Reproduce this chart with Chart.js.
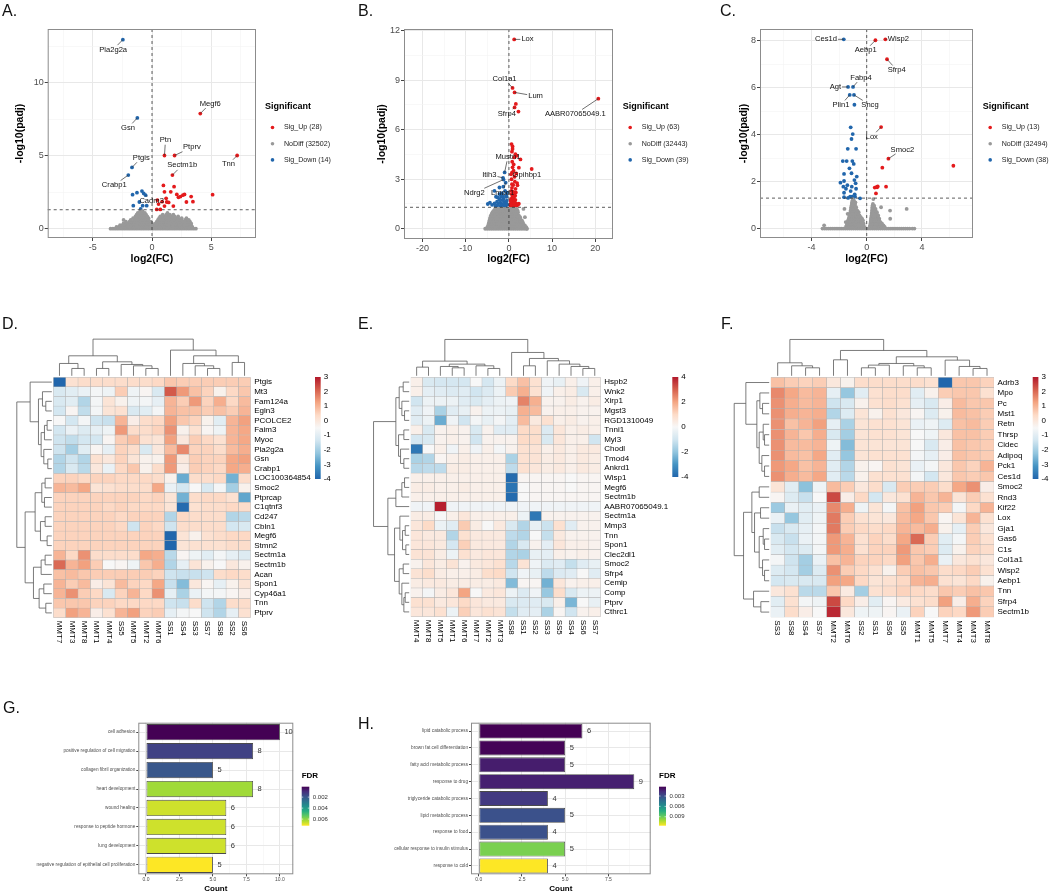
<!DOCTYPE html>
<html>
<head>
<meta charset="utf-8">
<title>DEG figure</title>
<script src="https://cdn.jsdelivr.net/npm/chart.js@4.4.1/dist/chart.umd.min.js"></script>
<style>
  body { margin: 0; background: #fff; font-family: "Liberation Sans", Arial, sans-serif; }
  #fig { position: relative; width: 1050px; height: 895px; overflow: hidden; }
  #fig canvas { position: absolute; }
  .tag { position: absolute; font-size: 16px; line-height: 16px; color: #111; }
</style>
</head>
<body>
<div id="fig">
  <canvas id="volA" width="350" height="270" style="left:0;top:0"></canvas>
  <canvas id="volB" width="350" height="270" style="left:350px;top:0"></canvas>
  <canvas id="volC" width="350" height="270" style="left:700px;top:0"></canvas>
  <canvas id="heatD" width="340" height="330" style="left:0;top:320px"></canvas>
  <canvas id="heatE" width="350" height="330" style="left:340px;top:320px"></canvas>
  <canvas id="heatF" width="360" height="330" style="left:690px;top:320px"></canvas>
  <canvas id="goG" width="340" height="205" style="left:0;top:690px"></canvas>
  <canvas id="goH" width="370" height="205" style="left:340px;top:690px"></canvas>
  <div class="tag" style="left:2px;top:3px">A.</div>
  <div class="tag" style="left:358px;top:3px">B.</div>
  <div class="tag" style="left:720px;top:3px">C.</div>
  <div class="tag" style="left:2px;top:316px">D.</div>
  <div class="tag" style="left:358px;top:316px">E.</div>
  <div class="tag" style="left:721px;top:316px">F.</div>
  <div class="tag" style="left:3px;top:700px">G.</div>
  <div class="tag" style="left:358px;top:716px">H.</div>
</div>
<script>
// ---------- volcano A (log2FC, -log10 padj) ----------
// non-significant genes, read as rows: [-log10 padj, [log2FC ...]]
const aNoDiffRows = [
  [0, [-3.5,-3.3,-3.1,-2.9,-2.7,-2.5,-2.3,-2.1,-1.9,-1.7,-1.5,-1.3,-1.1,-0.9,-0.7,-0.5,-0.3,-0.1,0.1,0.3,0.5,0.7,0.9,1.1,1.3,1.5,1.7,1.9,2.1,2.3,2.5,2.7,2.9,3.1,3.3,3.5,3.7]],
  [0.12, [-3.0,-2.8,-2.6,-2.4,-2.2,-2.0,-1.8,-1.6,-1.4,-1.2,-1.0,-0.8,-0.6,-0.4,-0.2,0.0,0.2,0.4,0.6,0.8,1.0,1.2,1.4,1.6,1.8,2.0,2.2,2.4,2.6,2.8,3.0,3.2,3.4]],
  [0.24, [-2.7,-2.5,-2.3,-2.1,-1.9,-1.7,-1.5,-1.3,-1.1,-0.9,-0.7,-0.5,-0.3,-0.1,0.1,0.3,0.5,0.7,0.9,1.1,1.3,1.5,1.7,1.9,2.1,2.3,2.5,2.7,2.9,3.1,3.3]],
  [0.36, [-2.4,-2.2,-2.0,-1.8,-1.6,-1.4,-1.2,-1.0,-0.8,-0.6,-0.4,-0.2,0.0,0.3,0.5,0.7,0.9,1.1,1.3,1.5,1.7,1.9,2.1,2.3,2.5,2.7,2.9,3.1,3.3]],
  [0.48, [-2.2,-1.9,-1.7,-1.5,-1.3,-1.1,-0.9,-0.7,-0.5,-0.3,-0.1,0.4,0.6,0.8,1.0,1.2,1.4,1.6,1.8,2.0,2.2,2.4,2.6,2.8,3.0,3.2]],
  [0.6, [-2.4,-1.8,-1.5,-1.3,-1.1,-0.9,-0.7,-0.5,-0.3,0.5,0.7,0.9,1.1,1.3,1.5,1.7,1.9,2.1,2.3,2.5,2.8,3.1]],
  [0.72, [-1.6,-1.3,-1.1,-0.9,-0.7,-0.5,-0.3,0.6,0.8,1.0,1.2,1.4,1.6,1.8,2.0,2.2,2.5,2.9]],
  [0.84, [-1.4,-1.2,-1.0,-0.8,-0.6,-0.4,0.7,0.9,1.1,1.3,1.5,1.7,1.9,2.2]],
  [0.96, [-1.3,-1.1,-0.9,-0.7,-0.5,0.9,1.2,1.5,1.8]],
  [1.08, [-1.2,-1.0,-0.8,-0.6,1.3]],
  [1.2, [-1.0,-0.8]]];
const aUp = [[4.07,7.9,'Megf6'],[1.05,5.02,'Ptn'],[1.9,5.02,'Ptprv'],[7.18,5.02,'Tnn'],[1.72,3.68,'Sectm1b'],
  [0.96,2.97],[1.86,2.88],[1.05,2.53],[1.58,2.53],[2.09,2.35],[2.6,2.3],[2.4,2.2],[2.23,2.15],[2.74,2.35],[3.3,2.2],[5.11,2.33],
  [1.19,2.08],[0.85,1.85],[1.24,1.83],[0.45,1.96],[2.9,1.83],[3.45,1.85],[1.05,1.55],[1.8,1.55],[0.4,1.32],[0.7,1.32],[0.55,1.69],[1.4,1.8]];
const aDown = [[-2.46,12.97,'Pla2g2a'],[-1.24,7.6,'Gsn'],[-1.69,4.2,'Ptgis'],[-2.0,3.68,'Crabp1'],[-0.54,2.3,'Cadm3'],
  [-1.64,2.33],[-1.27,2.47],[-0.85,2.58],[-0.7,2.42],[-1.58,1.58],[-1.07,1.83],[-0.79,1.58],[-0.45,1.58],[-0.96,1.35]];
const aCounts = [28, 32502, 14];

// ---------- volcano B ----------
const bNoDiffRows = [
  [0, [-5.5,-5,-4.5,-4,-3.5,-3,-2.5,-2,-1.5,-1,-0.5,0,0.5,1,1.5,2,2.5,3,3.5,4,4.2]],
  [0.1, [-5,-4.5,-4,-3.5,-3,-2.5,-2,-1.5,-1,-0.5,0,0.5,1,1.5,2,2.5,3,3.5,4]],
  [0.2, [-4.8,-4.3,-3.8,-3.3,-2.8,-2.3,-1.8,-1.3,-0.8,-0.3,0.2,0.7,1.2,1.7,2.2,2.7,3.2,3.7]],
  [0.3, [-4.7,-4.2,-3.7,-3.2,-2.7,-2.2,-1.7,-1.2,-0.7,-0.2,0.3,0.8,1.3,1.8,2.3,2.8,3.3]],
  [0.4, [-4.6,-4.1,-3.6,-3.1,-2.6,-2.1,-1.6,-1.1,-0.6,-0.1,0.4,0.9,1.4,1.9,2.4,2.9,3.2]],
  [0.5, [-4.5,-4,-3.5,-3,-2.5,-2,-1.5,-1,-0.5,0,0.5,1,1.5,2,2.5,3]],
  [0.6, [-4.4,-3.9,-3.4,-2.9,-2.4,-1.9,-1.4,-0.9,-0.4,0.1,0.6,1.1,1.6,2.1,2.6]],
  [0.7, [-4.3,-3.8,-3.3,-2.8,-2.3,-1.8,-1.3,-0.8,-0.3,0.2,0.7,1.2,1.7,2.2,2.6,3.7]],
  [0.8, [-4.2,-3.7,-3.2,-2.7,-2.2,-1.7,-1.2,-0.7,-0.2,0.3,0.8,1.3,1.8,2.3]],
  [0.9, [-4,-3.5,-3,-2.5,-2,-1.5,-1,-0.5,0,0.5,1,1.5,2]],
  [1.0, [-3.8,-3.3,-2.8,-2.3,-1.8,-1.3,-0.8,-0.3,0.2,0.7,1.2,1.7,2.1]],
  [1.1, [-3.5,-3,-2.5,-2,-1.5,-1,-0.5,0,0.5,1,1.5,2]],
  [1.2, [-3.2,-2.7,-2.2,-1.7,-1.2,-0.7,-0.2,0.3,0.8,1.3,1.8,3.36]]];
const bUp = [[1.22,11.47,'Lox'],[0.84,8.53,'Col1a1'],[1.3,8.26,'Lum'],[1.3,7.35,'Sfrp4'],[20.7,7.88,'AABR07065049.1'],
  [0.7,3.4,'Gpihbp1'],[1.6,7.56],[2.2,7.1],[0.6,5.13],[0.84,4.99],[0.84,4.83],[0.7,4.67],[1.5,4.52],[1.83,4.42],[1.22,4.32],
  [2.67,4.2],[0.76,4.06],[5.27,3.62],[0.84,3.72],[1.07,3.52],[1.68,3.35],[1.3,3.15],[0.6,3.0],[1.37,2.85],[1.9,2.77],
  [1.0,2.65],[1.98,2.63],[0.7,2.48],[1.53,2.42],[1.0,2.24],[0.6,2.1],[1.45,2.0],[0.76,1.9],[1.07,1.78],[1.3,1.68],
  [0.6,1.62],[1.68,1.54],[2.3,1.52],[0.92,1.45],[0.38,1.39],[0.5,1.8],[0.9,2.05],[1.2,1.95],[0.45,1.55],[0.8,1.6],
  [1.1,1.4],[1.5,1.75],[0.55,2.3],[0.65,1.35],[1.25,2.15],[0.95,1.35],[1.4,1.45],[0.5,1.45],[0.85,1.75],[1.75,1.4],
  [0.7,2.7],[2.3,3.7],[1.1,3.9],[0.5,3.3],[1.6,2.2],[2.1,1.45],[0.4,1.7],[1.2,1.55]];
const bDown = [[-1.0,3.41,'Mustn1'],[-1.37,3.08,'Itih3'],[-1.25,2.98,'Ndrg2'],[-0.76,2.79,'Lmod1'],[-2.2,2.5],[-3.36,2.3],
  [-3.0,1.94],[-2.2,2.1],[-1.83,1.94],[-1.22,1.82],[-2.75,1.64],[-4.9,1.5],[-4.4,1.58],[-3.9,1.45],[-3.36,1.53],[-2.5,1.5],
  [-2.0,1.58],[-1.6,1.5],[-1.07,1.62],[-0.76,1.41],[-1.5,1.74],[-0.53,1.94],[-0.46,2.18],[-1.0,1.33],[-2.75,1.41],
  [-2.2,1.78],[-0.9,2.3],[-1.3,2.55],[-0.6,1.55],[-1.8,1.4],[-0.4,1.45],[-1.4,1.95],[-2.6,1.9],[-0.7,2.0],[-1.15,1.45],
  [-0.5,1.7],[-3.1,1.35],[-2.0,1.35],[-1.6,2.15]];
const bCounts = [63, 32443, 39];

// ---------- volcano C ----------
const cNoDiffRows = [
  [0, [-3.2,-3.05,-2.9,-2.75,-2.6,-2.45,-2.3,-2.15,-2.0,-1.85,-1.7,-1.55,-1.4,-1.25,-1.1,-0.95,-0.8,-0.65,-0.5,-0.35,-0.2,-0.05,0.1,0.25,0.4,0.55,0.7,0.85,1.0,1.15,1.3,1.45,1.6,1.75,1.9,2.05,2.2,2.35,2.5,2.65,2.8,2.95,3.1,3.3,3.45]],
  [0.07, [-1.5,-1.38,-1.26,-1.14,-1.02,-0.9,-0.78,-0.66,-0.54,-0.42,-0.3,-0.18,0.22,0.34,0.46,0.58,0.7,0.82,0.94,1.06,1.18,1.3]],
  [0.14, [-3.08,-1.45,-1.33,-1.21,-1.09,-0.97,-0.85,-0.73,-0.61,-0.49,-0.37,-0.25,0.25,0.37,0.49,0.61,0.73,0.85,0.97,1.09,1.21]],
  [0.21, [-1.42,-1.3,-1.18,-1.06,-0.94,-0.82,-0.7,-0.58,-0.46,-0.34,-0.22,0.27,0.39,0.51,0.63,0.75,0.87,0.99,1.11]],
  [0.28, [-1.52,-1.38,-1.26,-1.14,-1.02,-0.9,-0.78,-0.66,-0.54,-0.42,-0.3,0.28,0.4,0.52,0.64,0.76,0.88,1.0]],
  [0.35, [-1.35,-1.23,-1.11,-0.99,-0.87,-0.75,-0.63,-0.51,-0.39,-0.27,0.3,0.42,0.54,0.66,0.78,0.9]],
  [0.42, [-1.3,-1.18,-1.06,-0.94,-0.82,-0.7,-0.58,-0.46,-0.34,0.31,0.43,0.55,0.67,0.79,0.91,1.7]],
  [0.49, [-1.27,-1.15,-1.03,-0.91,-0.79,-0.67,-0.55,-0.43,0.33,0.45,0.57,0.69,0.81]],
  [0.56, [-1.24,-1.12,-1.0,-0.88,-0.76,-0.64,-0.52,0.35,0.47,0.59,0.71,0.83]],
  [0.63, [-1.38,-1.21,-1.09,-0.97,-0.85,-0.73,-0.61,0.36,0.48,0.6,0.72]],
  [0.7, [-1.18,-1.06,-0.94,-0.82,-0.7,-0.58,0.38,0.5,0.62,0.74]],
  [0.77, [-1.16,-1.04,-0.92,-0.8,-0.68,0.39,0.51,0.63,1.69]],
  [0.84, [-1.61,-1.14,-1.02,-0.9,-0.78,0.4,0.52,0.64,2.89]],
  [0.91, [-1.12,-1.0,-0.88,-0.76,0.41,0.53,1.04]],
  [0.98, [-1.1,-0.98,-0.86,0.42,0.54]],
  [1.05, [-1.08,-0.96,-0.84,0.45]],
  [1.12, [-1.06,-0.94,-0.82]],
  [1.19, [-1.04,-0.92]],
  [1.26, [-1.0,0.48]]];
const cUp = [[1.35,8.07,'Wisp2'],[0.63,8.03,'Aebp1'],[1.47,7.22,'Sfrp4'],[1.04,4.33,'Lox'],[1.57,2.98,'Smoc2'],
  [1.13,2.6],[6.27,2.68],[1.4,1.79],[0.58,1.75],[0.72,1.78],[0.8,1.8],[0.67,1.5],[0.75,1.76]];
const cDown = [[-1.66,8.07,'Ces1d'],[-1.35,6.04,'Agt'],[-0.99,6.04,'Fabp4'],[-1.23,5.7,'Plin1'],[-0.92,5.7,'Sncg'],
  [-0.89,5.28],[-1.16,4.32],[-1.01,4.03],[-1.1,3.82],[-1.37,3.4],[-0.77,3.4],[-1.73,2.88],[-1.45,2.88],[-1.04,2.88],
  [-0.94,2.76],[-1.25,2.57],[-1.1,2.36],[-0.72,2.22],[-1.64,2.33],[-0.89,2.07],[-1.9,1.96],[-1.64,2.03],[-1.4,1.85],
  [-0.8,1.93],[-1.69,1.79],[-1.08,1.79],[-0.77,1.7],[-1.16,1.6],[-1.64,1.53],[-0.87,1.46],[-1.64,1.34],[-1.2,1.36],
  [-1.06,1.36],[-0.84,1.36],[-0.48,1.29],[-1.35,1.31],[-0.98,1.32],[-1.5,1.7]];
const cCounts = [13, 32494, 38];

const padjCut = 1.3;   // -log10(0.05)

// ---------- heatmap D ----------
const dRows = ['Ptgis','Mt3','Fam124a','Egln3','PCOLCE2','Faim3','Myoc','Pla2g2a','Gsn','Crabp1','LOC100364854','Smoc2',
  'Ptprcap','C1qtnf3','Cd247','Cbln1','Megf6','Stmn2','Sectm1a','Sectm1b','Acan','Spon1','Cyp46a1','Tnn','Ptprv'];
const dCols = ['MMT7','MMT3','MMT8','MMT1','MMT4','SS5','MMT5','MMT2','MMT6','SS1','SS4','SS3','SS7','SS8','SS2','SS6'];
const dVals = [
  [-4.0,0.2,0.3,0.3,0.3,0.3,0.3,0.3,0.4,0.7,0.6,0.6,0.6,0.6,0.6,0.6],
  [-1.2,-1.0,-0.8,-0.6,-0.7,0.6,-0.7,-0.4,-1.2,2.2,1.4,0.8,0.5,-0.3,0.4,0.7],
  [-1.2,-1.0,-1.8,-0.6,0.1,-0.3,-0.7,-0.6,-0.9,1.0,0.6,1.4,0.5,1.1,0.4,0.9],
  [-1.3,-0.4,-1.6,-0.6,0.1,0.2,-1.2,-1.0,-0.6,1.0,0.8,0.8,0.6,0.8,0.6,1.0],
  [-0.5,-1.3,-0.6,-1.4,-1.5,1.0,-0.2,0.3,0.4,1.3,0.7,0.5,-0.3,-1.0,1.0,1.3],
  [-1.3,-0.8,-1.1,-0.9,-0.7,1.4,0.3,0.3,0.5,1.5,-0.3,0.2,-0.4,-0.7,1.0,1.2],
  [-1.4,-1.6,-1.3,-1.3,-0.4,0.6,0.8,0.2,0.1,1.3,0.0,0.6,0.4,0.2,1.0,1.2],
  [-1.4,-2.0,-1.0,-0.4,-0.9,0.5,0.3,-1.2,0.0,0.9,1.6,0.5,0.5,0.3,0.9,1.1],
  [-1.8,-1.4,-1.8,0.2,0.0,0.5,0.1,-0.3,-0.3,1.4,0.0,0.6,0.5,0.5,1.2,1.3],
  [-1.8,-1.2,-1.7,0.0,-0.8,0.4,0.7,-0.3,0.3,1.4,-0.2,0.6,0.5,0.4,1.2,1.1],
  [0.5,0.5,0.4,0.5,0.5,0.4,0.4,0.4,0.3,-0.3,-2.7,0.3,0.3,0.4,-2.6,0.3],
  [1.0,0.9,1.2,0.1,0.2,0.3,0.3,0.3,1.2,-0.8,-1.3,-0.5,-1.2,-0.6,-2.0,-0.3],
  [0.5,0.5,0.5,0.5,0.5,0.5,0.5,0.4,0.5,0.1,-2.6,0.3,0.4,0.4,0.2,-2.8],
  [0.5,0.5,0.5,0.5,0.4,0.5,0.4,0.4,0.4,0.1,-3.9,0.2,0.3,0.3,0.4,0.3],
  [0.5,0.5,0.5,0.5,0.5,0.4,0.5,0.5,0.5,-1.8,0.4,0.3,0.3,0.3,-1.8,-1.7],
  [0.5,0.5,0.5,0.5,0.5,0.4,-1.4,0.5,0.4,-1.4,0.3,0.3,0.3,0.3,-1.3,-1.2],
  [0.5,0.5,0.5,0.5,0.5,0.5,0.5,0.5,0.5,-4.0,0.1,-0.3,0.2,0.3,0.4,0.4],
  [0.5,0.5,0.5,0.5,0.5,0.5,0.5,0.5,0.5,-4.0,0.1,0.2,0.2,0.2,0.3,0.3],
  [1.0,0.4,1.5,0.3,0.3,0.3,0.3,1.2,1.1,-1.7,-0.4,-0.7,-1.0,-0.6,-0.9,-1.1],
  [2.0,1.0,1.3,0.6,-0.5,-0.4,-0.7,0.7,1.1,-1.8,-0.9,0.1,-0.3,-0.5,0.0,-0.3],
  [0.8,0.9,0.7,0.6,0.6,0.6,0.6,0.6,0.5,-1.4,-1.5,-1.5,-1.4,0.3,0.4,0.3],
  [1.0,0.6,0.9,-0.2,0.1,0.9,0.5,0.4,1.2,-1.5,-2.4,0.0,-0.4,-0.9,-0.3,0.1],
  [1.0,1.5,0.6,0.4,-1.2,0.5,1.0,0.4,1.5,-0.9,-1.9,-0.8,-0.6,-0.6,-0.4,-0.2],
  [0.7,0.7,0.7,0.5,0.5,0.4,0.4,0.4,0.4,-1.4,-1.5,0.3,-1.4,-1.8,0.3,0.3],
  [0.3,1.3,1.0,-0.2,0.2,1.0,1.3,0.5,0.6,-0.9,-0.6,-0.5,-1.4,-1.8,-0.9,0.2]];
// cluster trees: [height, left, right], leaves are display indices
const dColTree = [110, [60, [37, 0, [22, 1, 2]], [42, [22, 3, 4], [34, 5, [30, 6, [22, 7, 8]]]]],
  [77, 9, [60, [37, 10, [30, 11, [22, 12, 13]]], [40, 14, 15]]]];
const dRowTree = [105, [65, 0, [40, [28, 1, [18, 2, 3]], [32, [22, [14, 4, 5], 6], [24, 7, [12, 8, 9]]]]],
  [80, [50, [30, [20, 10, 11], [22, 12, 13]], [34, [20, 14, 15], [14, 16, 17]]],
       [55, [32, [20, 18, 19], 20], [38, [24, 21, 22], [18, 23, 24]]]]];
const dScale = [-4, 3];

// ---------- heatmap E ----------
const eRows = ['Hspb2','Wnk2','Xirp1','Mgst3','RGD1310049','Tnni1','Myl3','Chodl','Tmod4','Ankrd1','Wisp1','Megf6',
  'Sectm1b','AABR07065049.1','Sectm1a','Mmp3','Tnn','Spon1','Clec2dl1','Smoc2','Sfrp4','Cemip','Comp','Ptprv','Cthrc1'];
const eCols = ['MMT4','MMT8','MMT5','MMT1','MMT6','MMT7','MMT2','MMT3','SS8','SS1','SS2','SS3','SS5','SS4','SS6','SS7'];
const eVals = [
  [0.3,-0.8,-0.9,-0.9,-0.9,0.0,-0.9,-0.3,1.0,1.5,0.8,-0.2,-0.4,0.3,-0.2,0.3],
  [0.3,-0.5,-0.6,-0.7,-0.6,-1.0,-0.7,-0.3,1.3,1.8,0.8,-0.2,0.3,0.4,-0.8,0.3],
  [-1.0,-0.3,-0.3,-0.3,-0.6,-0.8,-0.5,-0.3,-0.2,2.5,1.8,0.2,0.2,0.4,0.2,0.4],
  [-0.6,-0.2,-1.6,-0.6,-0.4,0.2,-0.3,-0.3,-0.4,1.8,1.6,0.2,0.3,0.3,0.2,0.2],
  [-0.6,-0.3,-2.5,-0.2,-1.0,-0.1,-0.4,-0.1,-0.5,1.6,0.5,0.8,0.3,0.4,0.2,0.3],
  [0.3,-0.8,0.2,0.3,0.2,-0.8,0.2,-0.6,-0.6,1.0,0.9,-0.7,0.6,0.3,0.4,0.3],
  [-0.9,-0.8,0.2,0.3,0.2,-1.0,0.2,0.2,0.2,1.0,0.9,-0.8,0.6,0.3,0.3,-1.0],
  [-3.6,0.0,0.3,-0.2,0.3,-0.2,0.3,-0.1,0.2,0.8,0.7,0.3,0.5,0.3,0.5,0.5],
  [-1.6,-1.5,0.1,0.3,0.4,0.3,0.3,0.3,-1.6,0.8,0.7,0.4,0.5,0.3,0.5,0.4],
  [-1.4,-1.3,-1.3,0.4,0.4,0.3,0.3,0.3,-1.3,0.8,0.6,0.4,0.5,0.3,0.5,0.4],
  [0.3,0.3,0.3,0.3,0.3,0.3,0.3,0.3,-3.9,0.1,0.1,0.1,0.1,0.0,0.1,0.1],
  [0.4,0.4,0.3,0.3,0.4,0.3,0.3,0.3,-3.7,0.0,0.1,0.1,0.1,0.0,0.1,0.1],
  [0.3,0.3,0.3,0.3,0.3,0.3,0.3,0.3,-3.9,0.0,0.1,0.1,0.1,0.1,0.1,0.1],
  [-0.2,-0.2,3.9,-0.2,-0.2,-0.2,-0.2,-0.2,-0.2,-0.2,-0.2,-0.2,-0.2,-0.2,-0.2,-0.2],
  [0.4,0.4,0.0,0.3,0.6,0.3,0.3,0.3,0.3,-0.3,-3.6,0.2,0.2,0.2,0.2,0.2],
  [0.6,1.0,-0.3,-0.6,1.3,0.4,0.0,0.5,-0.8,-1.5,-0.4,-1.1,0.8,-0.6,0.2,0.2],
  [0.6,0.5,0.5,-1.5,0.8,0.5,0.5,0.5,-1.3,-1.5,0.0,-1.2,0.5,0.2,0.2,0.2],
  [0.6,0.6,0.5,-0.9,1.2,0.5,0.5,0.5,-1.5,-0.8,0.2,-0.5,0.6,0.3,0.3,0.2],
  [0.7,0.7,0.4,-0.3,0.8,0.5,0.6,0.6,-1.5,-1.6,-0.4,-0.5,0.3,0.2,0.3,0.2],
  [0.2,0.6,0.4,0.7,0.2,0.5,0.6,0.8,-1.4,0.7,-0.2,-0.7,-0.6,-1.2,-0.6,-0.4],
  [0.7,0.9,0.4,0.3,0.3,0.4,0.9,1.0,-1.0,-0.2,-0.4,-1.3,-0.7,-0.6,0.0,-0.6],
  [0.4,0.5,0.5,0.4,0.4,0.4,0.4,0.5,-2.2,0.1,0.1,-2.4,0.6,0.2,0.3,0.3],
  [0.2,-0.1,0.4,0.6,2.0,0.0,0.5,0.6,-0.3,-0.7,-0.2,-1.9,0.9,-0.8,-0.3,-0.3],
  [0.8,0.8,0.5,0.6,1.0,0.6,0.5,0.5,-0.8,-0.7,-0.6,-0.8,0.3,-2.3,0.0,-0.4],
  [0.6,0.6,0.8,-0.3,1.2,0.6,0.8,0.7,-1.2,-0.6,-0.5,-1.6,0.1,-1.0,0.2,0.3]];
const eColTree = [109, [44, [26, 0, 1], [35, [28, 2, [24, 3, 4]], [30, 5, [22, 6, 7]]]],
  [70, 8, [52, [30, 9, 10], [45, 11, [35, 12, [28, 13, [22, 14, 15]]]]]]];
const eRowTree = [107, [40, [30, [18, 0, 1], [22, 2, [14, 3, 4]]], [32, [16, 5, 6], [26, 7, [16, 8, 9]]]],
  [64, [40, [22, [14, 10, 11], 12], 13],
       [44, [28, 14, [20, [12, 15, 16], [10, 17, 18]]], [30, [18, 19, 20], [22, 21, [16, [12, 22, 23], 24]]]]]];
const eScale = [-4, 4];

// ---------- heatmap F ----------
const fRows = ['Adrb3','Mpo','Pc','Mst1','Retn','Thrsp','Cidec','Adipoq','Pck1','Ces1d','Smoc2','Rnd3','Kif22','Lox',
  'Gja1','Gas6','C1s','Col1a1','Wisp2','Aebp1','Tnn','Sfrp4','Sectm1b'];
const fCols = ['SS3','SS8','SS4','SS7','MMT2','MMT6','SS2','SS1','SS6','SS5','MMT1','MMT5','MMT7','MMT4','MMT3','MMT8'];
const fVals = [
  [0.8,0.6,0.5,0.6,0.0,-0.3,0.3,0.3,0.3,0.3,0.3,0.2,-4.0,0.7,0.7,0.5],
  [1.6,1.2,0.9,1.0,-0.9,-2.2,-1.0,0.2,0.3,0.3,-1.0,-0.3,0.6,0.7,0.7,0.2],
  [1.5,1.1,0.9,1.0,-1.4,-1.2,-0.3,0.2,0.3,0.2,-0.9,-1.2,-0.2,0.9,0.7,0.7],
  [1.5,1.1,1.0,1.1,-1.8,-1.1,0.1,-0.3,0.2,0.0,-0.4,-1.1,-0.3,0.9,0.8,0.6],
  [1.5,0.8,1.0,1.3,-0.9,-1.9,0.1,0.2,0.2,0.1,-0.8,-0.7,-1.1,0.8,0.9,0.6],
  [1.5,1.0,0.7,1.1,-1.2,-2.0,0.1,0.2,0.2,0.1,-0.5,-0.7,0.0,0.8,0.8,0.6],
  [1.5,0.9,0.9,1.0,-0.7,-2.4,0.1,0.1,0.1,0.1,-0.5,-1.2,-0.2,0.8,0.7,0.6],
  [1.5,0.9,0.8,1.2,-1.0,-2.2,0.1,0.2,0.2,0.2,-0.6,-0.9,-0.2,0.8,0.7,0.6],
  [1.4,1.2,0.8,1.0,-1.0,-1.8,-0.3,-0.4,0.2,0.1,-0.8,-0.6,0.0,0.7,0.5,1.0],
  [1.5,1.1,0.9,1.2,-1.0,-1.7,-0.3,0.2,0.2,0.2,-0.6,-1.3,0.0,0.7,0.6,0.7],
  [0.1,-1.0,-2.3,-0.7,0.9,0.6,0.0,0.3,-1.2,0.6,0.6,0.6,0.3,1.2,1.5,-0.2],
  [-0.4,-1.1,-1.5,-0.5,2.4,-0.2,0.4,-1.3,0.0,0.2,1.0,0.7,1.0,0.1,0.6,0.2],
  [-2.1,-0.8,-1.0,-0.8,1.6,1.1,-0.7,0.1,-0.6,0.8,1.3,0.7,0.6,-0.6,0.4,1.0],
  [-0.8,-2.2,-1.0,-0.7,1.8,0.6,0.2,0.1,0.0,0.9,1.2,0.7,-0.4,0.1,1.0,0.2],
  [-1.5,-1.2,-0.9,-0.6,1.8,0.6,0.4,0.3,0.4,1.0,0.9,1.1,-0.3,-0.9,0.6,0.0],
  [-1.2,-1.5,-0.8,-0.6,1.4,1.0,0.2,0.5,0.3,1.2,2.0,0.6,-1.0,-0.6,0.6,0.2],
  [-1.0,-1.3,-1.1,-0.6,1.4,1.1,0.2,0.5,0.5,1.4,0.7,0.6,-1.1,-0.3,0.5,0.3],
  [-0.6,-1.4,-2.0,-0.8,0.8,1.0,0.5,0.5,0.4,1.3,0.7,1.1,-0.8,0.0,0.2,0.0],
  [-1.1,-1.3,-2.0,-1.1,1.5,0.6,0.4,0.2,-0.3,0.6,0.8,0.7,0.3,0.4,0.6,0.2],
  [-1.3,-1.2,-1.2,-1.2,1.3,1.2,0.4,0.1,0.2,0.4,1.0,1.1,0.2,0.1,0.4,-0.3],
  [0.0,0.2,-1.7,-1.7,0.7,-0.1,-2.0,0.2,0.3,0.5,0.4,0.3,0.7,0.6,0.8,0.7],
  [-1.0,0.2,-0.6,-0.7,2.4,0.4,-0.2,-1.0,-0.4,-0.1,0.2,0.3,1.3,-0.2,1.1,0.5],
  [-0.8,0.3,-0.2,-0.5,2.8,0.0,-0.7,-0.7,-0.4,-0.8,0.5,-0.5,0.5,0.4,1.4,0.6]];
const fColTree = [109, [39, 0, [30, 1, [24, 2, 3]]],
  [76, [48, 4, 5], [57, [37, [32, [24, 6, 7], 8], [30, 9, [24, 10, 11]]], [47, 12, [28, 13, [22, 14, 15]]]]]];
const fRowTree = [105, [70, 0, [37, [28, 1, [20, 2, 3]], [30, [18, 4, [14, 5, 6]], [22, 7, [14, 8, 9]]]]],
  [77, [52, [30, 10, 11], [44, [26, 12, 13], [30, [18, 14, [14, 15, 16]], [20, 17, [14, 18, 19]]]]], [47, 20, [25, 21, 22]]]];
const fScale = [-4, 3];

// ---------- GO terms G ----------
const gTerms = ['cell adhesion','positive regulation of cell migration','collagen fibril organization','heart development',
  'wound healing','response to peptide hormone','lung development','negative regulation of epithelial cell proliferation'];
const gCount = [10, 8, 5, 8, 6, 6, 6, 5];
const gFdr = [0.0001, 0.0015, 0.0020, 0.0062, 0.0067, 0.0067, 0.0067, 0.0072];
const gFdrTicks = [0.002, 0.004, 0.006];

// ---------- GO terms H ----------
const hTerms = ['lipid catabolic process','brown fat cell differentiation','fatty acid metabolic process','response to drug',
  'triglyceride catabolic process','lipid metabolic process','response to food','cellular response to insulin stimulus','response to cold'];
const hCount = [6, 5, 5, 9, 4, 5, 4, 5, 4];
const hFdr = [0.0003, 0.0004, 0.0012, 0.0013, 0.0022, 0.0031, 0.0031, 0.0093, 0.0116];
const hFdrTicks = [0.003, 0.006, 0.009];

// ================= drawing =================
const FONT = '"Liberation Sans", Arial, Helvetica, sans-serif';
Chart.defaults.font.family = FONT;
const RED = '#E41A1C', GREY = '#999999', BLUE = '#2166AC';
const RDBU = ['#2166AC','#4393C3','#92C5DE','#D1E5F0','#F7F7F7','#FDDBC7','#F4A582','#D6604D','#B2182B'];
const VIRIDIS = ['#440154','#472D7B','#3B528B','#2C728E','#21908C','#27AD81','#5EC962','#AADC32','#FDE725'];

function hexRgb(h) { const n = parseInt(h.slice(1), 16); return [n >> 16 & 255, n >> 8 & 255, n & 255]; }
function ramp(stops, t) {
  t = Math.max(0, Math.min(1, t));
  const p = t * (stops.length - 1), i = Math.min(Math.floor(p), stops.length - 2), f = p - i;
  const a = hexRgb(stops[i]), b = hexRgb(stops[i + 1]);
  return 'rgb(' + a.map((v, k) => Math.round(v + (b[k] - v) * f)).join(',') + ')';
}
const isMajor = (v, m) => Math.abs(v / m - Math.round(v / m)) < 1e-6;
const unrow = rows => rows.flatMap(([y, xs]) => xs.map(x => [x, y]));

// volcano extras: cut lines, frame, gene labels, legend
const volcPlugin = {
  id: 'volc',
  afterDatasetsDraw(chart, args, o) {
    const { ctx, chartArea: a, scales: { x, y } } = chart;
    ctx.save();
    ctx.strokeStyle = '#333'; ctx.lineWidth = 0.8; ctx.setLineDash([3, 3]);
    const x0 = x.getPixelForValue(0), yc = y.getPixelForValue(padjCut);
    ctx.beginPath();
    ctx.moveTo(x0, a.top); ctx.lineTo(x0, a.bottom);
    ctx.moveTo(a.left, yc); ctx.lineTo(a.right, yc);
    ctx.stroke();
    ctx.setLineDash([]);
    ctx.strokeStyle = '#8c8c8c'; ctx.lineWidth = 1;
    ctx.strokeRect(a.left + 0.5, a.top + 0.5, a.width - 1, a.height - 1);

    // labelled genes
    ctx.font = '7.6px ' + FONT; ctx.textAlign = 'center'; ctx.textBaseline = 'middle';
    chart.data.datasets.forEach(ds => ds.data.forEach(p => {
      if (!p.name || !o.offsets[p.name]) return;
      const [dx, dy] = o.offsets[p.name];
      const px = x.getPixelForValue(p.x), py = y.getPixelForValue(p.y);
      const cx = px + dx, cy = py + dy;
      const hw = ctx.measureText(p.name).width / 2 + 1, hh = 4.5;
      const vx = px - cx, vy = py - cy;
      const t = Math.min(vx ? Math.abs(hw / vx) : Infinity, vy ? Math.abs(hh / vy) : Infinity);
      if (t < 1) {
        ctx.strokeStyle = '#333'; ctx.lineWidth = 0.7;
        ctx.beginPath(); ctx.moveTo(cx + vx * t, cy + vy * t); ctx.lineTo(px, py); ctx.stroke();
      }
      ctx.fillStyle = '#111';
      ctx.fillText(p.name, cx, cy);
    }));

    // legend
    const L = o.legend;
    ctx.textAlign = 'left'; ctx.fillStyle = '#000';
    ctx.font = 'bold 9px ' + FONT;
    ctx.fillText('Significant', L.x, L.y);
    ctx.font = '7.1px ' + FONT;
    [1, 0, 2].forEach((di, k) => {
      const ds = chart.data.datasets[di];
      const yy = L.y + 20.5 + k * 16.2;
      ctx.fillStyle = ds.pointBackgroundColor;
      ctx.beginPath(); ctx.arc(L.x + 7.5, yy, 1.8, 0, Math.PI * 2); ctx.fill();
      ctx.fillStyle = '#222';
      ctx.fillText(ds.label + ' (' + o.counts[k] + ')', L.x + 19, yy);
    });
    ctx.restore();
  }
};

function volcano(id, d) {
  const pts = arr => arr.map(p => ({ x: p[0], y: p[1], name: p[2] }));
  const set = (label, arr, c) => ({ label, data: pts(arr), pointBackgroundColor: c, pointBorderColor: c,
    pointBorderWidth: 0, pointRadius: 1.9 });
  const axis = (min, max, step, title, isX, fit, tpad) => ({
    type: 'linear', min, max,
    afterFit: s => { if (isX) s.height = fit; else s.width = fit; },
    ticks: { stepSize: step / 2, includeBounds: false, autoSkip: false, color: '#4D4D4D', font: { size: 9 }, padding: 1,
      callback: v => isMajor(v, step) ? v : '' },
    grid: { color: c => isMajor(c.tick.value, step) ? '#E8E8E8' : '#F4F4F4',
      lineWidth: c => isMajor(c.tick.value, step) ? 1 : 0.6,
      tickColor: c => isMajor(c.tick.value, step) ? '#444' : 'rgba(0,0,0,0)', tickLength: 3 },
    border: { display: false },
    title: { display: true, text: title, color: '#000', font: { size: 10.5, weight: 'bold' },
      padding: isX ? { top: 0, bottom: tpad } : { top: tpad, bottom: 0 } }
  });
  new Chart(document.getElementById(id), {
    type: 'scatter',
    data: { datasets: [set('NoDiff', d.none, GREY), set('Sig_Up', d.up, RED), set('Sig_Down', d.down, BLUE)] },
    options: {
      responsive: false, animation: false, devicePixelRatio: 1, events: [],
      layout: { padding: { left: 0, top: d.top, right: d.right, bottom: 0 } },
      plugins: { legend: { display: false }, tooltip: { enabled: false },
        volc: { offsets: d.offsets, legend: d.legend, counts: d.counts } },
      scales: {
        x: axis(d.x[0], d.x[1], d.x[2], 'log2(FC)', true, d.xh, 5),
        y: axis(d.y[0], d.y[1], d.y[2], '-log10(padj)', false, d.yw, d.ytp)
      }
    },
    plugins: [volcPlugin]
  });
}

volcano('volA', { none: unrow(aNoDiffRows), up: aUp, down: aDown, counts: aCounts,
  x: [-8.8, 8.77, 5], y: [-0.64, 13.7, 5], top: 29, right: 94, xh: 32, yw: 47.7, ytp: 14,
  legend: { x: 265, y: 107 },
  offsets: { Pla2g2a: [-9.7, 10], Gsn: [-9.3, 10], Ptgis: [9.3, -9.7], Crabp1: [-14, 10], Cadm3: [6, 6],
    Ptn: [1, -15.3], Ptprv: [17.3, -8.3], Megf6: [10, -10], Sectm1b: [9.7, -9.7], Tnn: [-8.7, 8.7] } });
volcano('volB', { none: unrow(bNoDiffRows), up: bUp, down: bDown, counts: bCounts,
  x: [-24.3, 24.1, 10], y: [-0.62, 12.1, 3], top: 29, right: 87, xh: 31, yw: 54, ytp: 26,
  legend: { x: 272.7, y: 107 },
  offsets: { Lox: [13.3, 0], Col1a1: [-8, -9], Lum: [21, 3.7], Sfrp4: [-7.7, 6], 'AABR07065049.1': [-23, 15.3],
    Mustn1: [3.3, -15.7], Itih3: [-13.7, -3.5], Ndrg2: [-29.2, 13.2], Gpihbp1: [15, 1.8], Lmod1: [-3, 10] } });
volcano('volC', { none: unrow(cNoDiffRows), up: cUp, down: cDown, counts: cCounts,
  x: [-7.72, 7.69, 4], y: [-0.4, 8.51, 2], top: 29, right: 77, xh: 32, yw: 60, ytp: 38,
  legend: { x: 282.7, y: 107 },
  offsets: { Ces1d: [-17.7, 0], Wisp2: [13, 0], Aebp1: [-9.7, 10], Sfrp4: [9.7, 10.7], Fabp4: [8, -9.3],
    Agt: [-12.7, 0], Plin1: [-8.7, 10], Sncg: [16, 10], Lox: [-9.3, 9.7], Smoc2: [14, -9.3] } });

// heatmap extras: dendrograms, column names, colour key
function drawTree(ctx, node, pos, hpx, horiz) {
  if (typeof node === 'number') return { p: pos(node), h: 0 };
  const [h, l, r] = node;
  const A = drawTree(ctx, l, pos, hpx, horiz), B = drawTree(ctx, r, pos, hpx, horiz);
  const seg = (p1, h1, p2, h2) => {
    ctx.beginPath();
    if (horiz) { ctx.moveTo(hpx(h1), p1); ctx.lineTo(hpx(h2), p2); }
    else { ctx.moveTo(p1, hpx(h1)); ctx.lineTo(p2, hpx(h2)); }
    ctx.stroke();
  };
  seg(A.p, A.h, A.p, h); seg(B.p, B.h, B.p, h); seg(A.p, h, B.p, h);
  return { p: (A.p + B.p) / 2, h };
}

const heatPlugin = {
  id: 'heat',
  afterDraw(chart, args, o) {
    const { ctx, chartArea: a, scales: { x, y } } = chart;
    ctx.save();
    ctx.strokeStyle = '#5a5a5a'; ctx.lineWidth = 0.8;
    const colPos = i => x.getPixelForValue(i + 0.5);
    drawTree(ctx, o.colTree, colPos, h => a.top - 1.5 - h / 3, false);
    drawTree(ctx, o.rowTree, i => y.getPixelForValue(i), h => a.left - 1.5 - h / 3, true);

    ctx.fillStyle = '#000'; ctx.font = '8px ' + FONT; ctx.textAlign = 'left'; ctx.textBaseline = 'middle';
    o.cols.forEach((c, j) => {
      ctx.save(); ctx.translate(colPos(j), a.bottom + 3); ctx.rotate(Math.PI / 2);
      ctx.fillText(c, 0, 0); ctx.restore();
    });

    const L = o.key, [mn, mx] = o.range;
    const g = ctx.createLinearGradient(0, L.top + L.h, 0, L.top);
    RDBU.forEach((c, k) => g.addColorStop(k / (RDBU.length - 1), c));
    ctx.fillStyle = g; ctx.fillRect(L.x, L.top, L.w, L.h);
    ctx.fillStyle = '#000';
    L.ticks.forEach(v => ctx.fillText(String(v), L.x + L.w + 3, L.top + (mx - v) / (mx - mn) * L.h));
    ctx.restore();
  }
};

function heatmap(id, rows, cols, vals, range, colTree, rowTree, box, key) {
  const [mn, mx] = range;
  const canvas = document.getElementById(id);
  const datasets = cols.map((c, j) => ({
    label: c,
    data: rows.map(() => 1),
    backgroundColor: rows.map((r, i) => ramp(RDBU, (vals[i][j] - mn) / (mx - mn))),
    borderColor: '#b0b0b0', borderWidth: 0.5, borderSkipped: false,
    barPercentage: 1, categoryPercentage: 1
  }));
  new Chart(canvas, {
    type: 'bar',
    data: { labels: rows, datasets },
    options: {
      indexAxis: 'y', responsive: false, animation: false, devicePixelRatio: 1, events: [],
      layout: { padding: { left: box.l, top: box.t, right: 0, bottom: canvas.height - box.b } },
      plugins: { legend: { display: false }, tooltip: { enabled: false },
        heat: { colTree, rowTree, cols, range, key } },
      scales: {
        x: { stacked: true, display: false, min: 0, max: cols.length },
        y: { stacked: true, position: 'right', grid: { display: false, drawTicks: false }, border: { display: false },
          ticks: { color: '#000', font: { size: 8 }, padding: 3.5, autoSkip: false },
          afterFit: s => { s.width = canvas.width - box.r; } }
      }
    },
    plugins: [heatPlugin]
  });
}

heatmap('heatD', dRows, dCols, dVals, dScale, dColTree, dRowTree, { l: 53.3, t: 57.3, r: 250.7, b: 297.7 },
  { x: 315, top: 57, w: 5.7, h: 102, ticks: [3, 2, 1, 0, -1, -2, -3, -4] });
heatmap('heatE', eRows, eCols, eVals, eScale, eColTree, eRowTree, { l: 70.7, t: 57.3, r: 260.7, b: 296.7 },
  { x: 332.3, top: 57, w: 6, h: 100, ticks: [4, 2, 0, -2, -4] });
heatmap('heatF', fRows, fCols, fVals, fScale, fColTree, fRowTree, { l: 80.7, t: 57.3, r: 304, b: 297.3 },
  { x: 342.7, top: 57, w: 5.7, h: 102, ticks: [3, 2, 1, 0, -1, -2, -3, -4] });

// GO bar charts
const goPlugin = {
  id: 'go',
  afterDatasetsDraw(chart, args, o) {
    const { ctx, chartArea: a } = chart;
    ctx.save();
    ctx.strokeStyle = '#8c8c8c'; ctx.lineWidth = 1;
    ctx.strokeRect(a.left + 0.5, a.top + 0.5, a.width - 1, a.height - 1);
    const ds = chart.data.datasets[0];
    ctx.fillStyle = '#333'; ctx.font = '7.5px ' + FONT; ctx.textAlign = 'left'; ctx.textBaseline = 'middle';
    chart.getDatasetMeta(0).data.forEach((bar, i) => ctx.fillText(String(ds.data[i]), bar.x + 4.5, bar.y));

    const L = o.key;
    ctx.fillStyle = '#000'; ctx.font = 'bold 8px ' + FONT;
    ctx.fillText('FDR', L.x, L.top - 11);
    const g = ctx.createLinearGradient(0, L.top, 0, L.top + L.h);
    VIRIDIS.forEach((c, k) => g.addColorStop(k / (VIRIDIS.length - 1), c));
    ctx.fillStyle = g; ctx.fillRect(L.x, L.top, L.w, L.h);
    ctx.font = '6px ' + FONT; ctx.strokeStyle = '#fff'; ctx.lineWidth = 0.6;
    L.ticks.forEach(v => {
      const yy = L.top + (v - o.lo) / (o.hi - o.lo) * L.h;
      ctx.beginPath(); ctx.moveTo(L.x, yy); ctx.lineTo(L.x + 1.5, yy);
      ctx.moveTo(L.x + L.w - 1.5, yy); ctx.lineTo(L.x + L.w, yy); ctx.stroke();
      ctx.fillStyle = '#333'; ctx.fillText(v.toFixed(3), L.x + L.w + 3.5, yy);
    });
    ctx.restore();
  }
};

function goBars(id, terms, counts, fdr, fdrTicks, xr, box, barPct, key) {
  const canvas = document.getElementById(id);
  const lo = Math.min(...fdr), hi = Math.max(...fdr);
  const major = c => isMajor(c.tick.value, 2.5);
  new Chart(canvas, {
    type: 'bar',
    data: { labels: terms, datasets: [{ data: counts,
      backgroundColor: fdr.map(f => ramp(VIRIDIS, (f - lo) / (hi - lo))),
      borderColor: '#4a4a4a', borderWidth: 0.9, borderSkipped: false,
      barPercentage: barPct, categoryPercentage: 1 }] },
    options: {
      indexAxis: 'y', responsive: false, animation: false, devicePixelRatio: 1, events: [],
      layout: { padding: { left: 0, top: box.t, right: canvas.width - box.r, bottom: 0 } },
      plugins: { legend: { display: false }, tooltip: { enabled: false },
        go: { lo, hi, key: Object.assign({ ticks: fdrTicks }, key) } },
      scales: {
        x: { type: 'linear', min: xr[0], max: xr[1],
          afterFit: s => { s.height = canvas.height - box.b; },
          ticks: { stepSize: 1.25, includeBounds: false, autoSkip: false, maxRotation: 0, color: '#4D4D4D',
            font: { size: 5 }, padding: 0.5, callback: v => isMajor(v, 2.5) ? v.toFixed(1) : '' },
          grid: { color: c => major(c) ? '#E8E8E8' : '#F4F4F4', lineWidth: c => major(c) ? 1 : 0.6,
            tickColor: c => major(c) ? '#444' : 'rgba(0,0,0,0)', tickLength: 2 },
          border: { display: false },
          title: { display: true, text: 'Count', color: '#000', font: { size: 8, weight: 'bold' }, padding: { top: 0, bottom: 1 } } },
        y: { grid: { offset: false, color: '#E8E8E8', tickColor: '#444', tickLength: 2 }, border: { display: false },
          ticks: { color: '#4D4D4D', font: { size: 4.7 }, padding: 1, autoSkip: false },
          afterFit: s => { s.width = box.l; } }
      }
    },
    plugins: [goPlugin]
  });
}

goBars('goG', gTerms, gCount, gFdr, gFdrTicks, [-0.57, 11.0], { l: 138.3, t: 32.7, r: 293.3, b: 184.3 }, 0.86,
  { x: 301.7, top: 96.7, w: 7.6, h: 39 });
goBars('goH', hTerms, hCount, hFdr, hFdrTicks, [-0.45, 9.95], { l: 131, t: 32.7, r: 310.7, b: 184.3 }, 0.89,
  { x: 319, top: 96.7, w: 7, h: 39 });
</script>
</body>
</html>
